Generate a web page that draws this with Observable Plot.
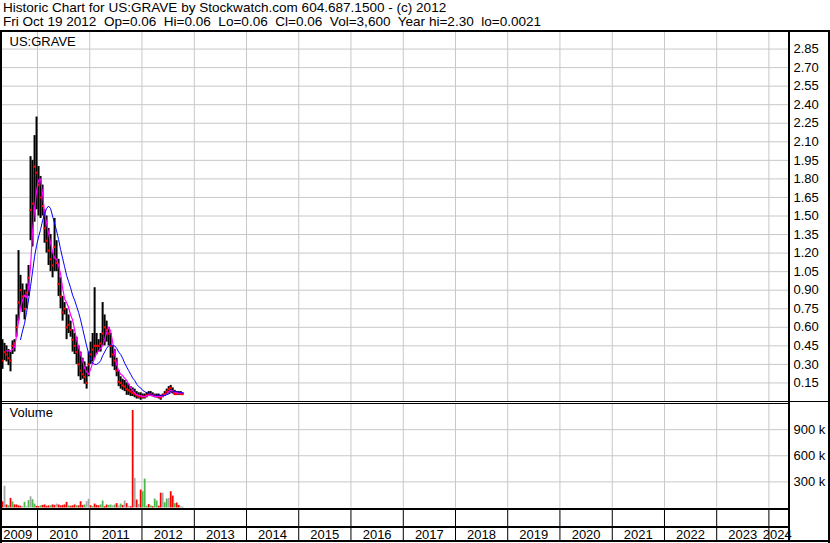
<!DOCTYPE html>
<html><head><meta charset="utf-8">
<script src="https://cdn.jsdelivr.net/npm/d3@7"></script>
<script src="https://cdn.jsdelivr.net/npm/@observablehq/plot@0.6"></script>
<style>
body{margin:0;background:#fff;}
#wrap{position:relative;width:830px;height:543px;overflow:hidden;font-family:"Liberation Sans",Arial,sans-serif;background:#fff;}
#hdr{position:absolute;left:3px;top:1px;font-size:13.55px;line-height:14px;color:#000;white-space:pre;}
.pl{position:absolute;left:0;}
.ln{position:absolute;background:#000;}
</style></head><body>
<div id="wrap">
  <div id="hdr"></div>
  <div id="price" class="pl" style="top:29px"></div>
  <div id="vol" class="pl" style="top:402px"></div>
  <div id="yrs" class="pl" style="top:509px"></div>
  <div class="ln" style="left:0;top:30px;width:830px;height:2px"></div>
  <div class="ln" style="left:0;top:30px;width:2px;height:513px"></div>
  <div class="ln" style="left:828px;top:30px;width:2px;height:513px"></div>
  <div class="ln" style="left:0;top:540px;width:830px;height:2px"></div>
  <div class="ln" style="left:788px;top:30px;width:2px;height:512px"></div>
  <div class="ln" style="left:0;top:401px;width:830px;height:1px"></div>
  <div class="ln" style="left:0;top:403px;width:789px;height:1px"></div>
  <div class="ln" style="left:0;top:508px;width:789px;height:2px"></div>
  <div class="ln" style="left:0;top:526px;width:789px;height:2px"></div>
</div>
<script>
const titleLine1 = "Historic Chart for US:GRAVE by Stockwatch.com 604.687.1500 - (c) 2012";
const titleLine2 = "Fri Oct 19 2012  Op=0.06  Hi=0.06  Lo=0.06  Cl=0.06  Vol=3,600  Year hi=2.30  lo=0.0021";
const symbolLabel = "US:GRAVE";
const volumeLabel = "Volume";

const dates = [
"2009-04-17","2009-05-01","2009-05-15","2009-05-29","2009-06-12","2009-06-26","2009-07-10","2009-07-24","2009-08-07","2009-08-21",
"2009-09-04","2009-09-18","2009-10-02","2009-10-16","2009-10-30","2009-11-13","2009-11-27","2009-12-11","2009-12-25",
"2010-01-08","2010-01-22","2010-02-05","2010-02-19","2010-03-05","2010-03-19","2010-04-02","2010-04-16","2010-04-30","2010-05-14",
"2010-05-28","2010-06-11","2010-06-25","2010-07-09","2010-07-23","2010-08-06","2010-08-20","2010-09-03","2010-09-17","2010-10-01",
"2010-10-15","2010-10-29","2010-11-12","2010-11-26","2010-12-10","2010-12-24",
"2011-01-07","2011-01-21","2011-02-04","2011-02-18","2011-03-04","2011-03-18","2011-04-01","2011-04-15","2011-04-29","2011-05-13",
"2011-05-27","2011-06-10","2011-06-24","2011-07-08","2011-07-22","2011-08-05","2011-08-19","2011-09-02","2011-09-16","2011-09-30",
"2011-10-14","2011-10-28","2011-11-11","2011-11-25","2011-12-09","2011-12-23",
"2012-01-06","2012-01-20","2012-02-03","2012-02-17","2012-03-02","2012-03-16","2012-03-30","2012-04-13","2012-04-27","2012-05-11",
"2012-05-25","2012-06-08","2012-06-22","2012-07-06","2012-07-20","2012-08-03","2012-08-17","2012-08-31","2012-09-14","2012-09-28","2012-10-12"];

const high = [0.50,0.50,0.47,0.45,0.42,0.40,0.49,0.50,0.70,1.22, 1.02,0.95,0.90,0.95,1.10,1.98,1.95,2.15,2.30,1.90,
1.82,1.75,1.55,1.50,1.40,1.35,1.20,1.48,1.30,1.15, 1.00,0.85,0.80,0.75,0.70,0.65,0.58,0.55,0.52,0.45,
0.40,0.35,0.32,0.28,0.40,0.48,0.55,0.92,0.55,0.50, 0.55,0.80,0.70,0.65,0.60,0.55,0.45,0.42,0.35,0.25,
0.20,0.18,0.17,0.15,0.14,0.12,0.11,0.10,0.08,0.07, 0.07,0.06,0.06,0.07,0.08,0.08,0.07,0.06,0.06,0.06,
0.05,0.06,0.08,0.10,0.12,0.13,0.11,0.09,0.08,0.08, 0.08,0.07];
const low = [0.30,0.26,0.33,0.32,0.29,0.24,0.38,0.40,0.52,0.65, 0.75,0.72,0.66,0.75,0.85,1.30,1.25,1.45,1.55,1.50,
1.48,1.50,1.28,1.20,1.10,1.05,1.00,1.05,1.05,0.85, 0.75,0.65,0.70,0.50,0.55,0.52,0.40,0.38,0.30,0.20,
0.17,0.18,0.14,0.10,0.20,0.30,0.32,0.35,0.38,0.40, 0.40,0.45,0.45,0.48,0.45,0.35,0.28,0.25,0.20,0.12,
0.10,0.09,0.08,0.05,0.05,0.04,0.04,0.03,0.02,0.02, 0.01,0.02,0.02,0.03,0.04,0.04,0.04,0.03,0.03,0.02,
0.01,0.03,0.04,0.05,0.06,0.07,0.06,0.05,0.05,0.05, 0.05,0.06];
const close = [0.40,0.33,0.40,0.38,0.35,0.33,0.45,0.47,0.60,0.80, 0.90,0.85,0.75,0.88,1.00,1.55,1.60,1.90,1.85,1.75,
1.65,1.58,1.40,1.30,1.22,1.15,1.10,1.25,1.12,0.95, 0.85,0.72,0.75,0.60,0.62,0.58,0.50,0.45,0.40,0.30,
0.25,0.22,0.20,0.15,0.30,0.38,0.42,0.45,0.45,0.45, 0.47,0.55,0.60,0.58,0.55,0.45,0.38,0.33,0.25,0.16,
0.15,0.13,0.12,0.10,0.09,0.08,0.07,0.06,0.05,0.04, 0.04,0.04,0.04,0.05,0.06,0.06,0.05,0.05,0.04,0.04,
0.03,0.05,0.06,0.08,0.10,0.11,0.08,0.06,0.06,0.07, 0.06,0.06];
const maFast = [null,null,null,0.41,0.41,0.41,0.42,0.44,0.53,0.65, 0.76,0.82,0.86,0.84,0.92,1.09,1.37,1.56,1.70,1.79,
1.80,1.68,1.53,1.44,1.36,1.28,1.21,1.16,1.15,1.10, 1.03,0.92,0.83,0.80,0.76,0.70,0.66,0.58,0.50,0.44,
0.38,0.33,0.27,0.24,0.22,0.26,0.31,0.35,0.39,0.41, 0.43,0.45,0.50,0.56,0.60,0.57,0.48,0.39,0.30,0.25,
0.22,0.21,0.19,0.17,0.14,0.11,0.09,0.07,0.055,0.05, 0.045,0.04,0.04,0.045,0.05,0.05,0.045,0.04,0.04,0.04,
0.04,0.045,0.05,0.06,0.08,0.09,0.085,0.075,0.07,0.07, 0.07,0.07];
const maSlow = [null,null,null,null,null,null,null,null,null,null, 0.50,0.57,0.63,0.72,0.82,0.93,1.05,1.17,1.26,1.33,
1.39,1.46,1.52,1.56,1.58,1.56,1.50,1.44,1.38,1.31, 1.23,1.16,1.09,1.02,0.97,0.92,0.86,0.82,0.77,0.72,
0.66,0.59,0.52,0.45,0.39,0.34,0.31,0.30,0.30,0.31, 0.33,0.37,0.40,0.43,0.45,0.46,0.45,0.45,0.43,0.40,
0.38,0.35,0.31,0.28,0.25,0.22,0.19,0.17,0.14,0.12, 0.11,0.09,0.08,0.07,0.065,0.06,0.055,0.05,0.05,0.05,
0.05,0.05,0.05,0.055,0.06,0.07,0.08,0.08,0.08,0.075, 0.07,0.07];
// volume in thousands of shares
const volumeK = [35,72,250,35,25,110,70,35,35,25, 20,15,65,15,85,130,95,45,20,15,
25,30,35,20,25,25,35,30,45,35, 25,30,35,65,25,20,25,35,25,25,
72,30,35,72,100,25,15,45,30,25, 35,80,15,34,30,34,25,34,50,25,
45,30,80,50,20,15,1120,340,92,40, 206,187,332,20,40,25,15,103,80,20,
170,170,60,103,110,187,137,50,57,30, 15,10];
const volDir = ["d","d","f","d","u","d","u","d","d","d", "d","f","u","f","u","f","u","u","d","d",
"u","d","d","d","d","u","d","d","f","d", "d","d","d","d","u","d","d","d","u","d",
"d","d","u","f","f","d","u","d","d","d", "u","u","d","d","u","u","f","u","d","f",
"u","d","f","d","f","d","d","f","d","f", "d","u","u","u","d","u","d","u","u","d",
"d","f","u","u","f","d","d","u","d","d", "f","f"];

const priceTicks = [0.15,0.30,0.45,0.60,0.75,0.90,1.05,1.20,1.35,1.50,1.65,1.80,1.95,2.10,2.25,2.40,2.55,2.70,2.85];
const volTicks = [300000,600000,900000];
const yearLines = ["2010-01-01","2011-01-01","2012-01-01","2013-01-01","2014-01-01","2015-01-01","2016-01-01","2017-01-01",
"2018-01-01","2019-01-01","2020-01-01","2021-01-01","2022-01-01","2023-01-01","2024-01-01"];
const yearLabels = ["2009","2010","2011","2012","2013","2014","2015","2016","2017","2018","2019","2020","2021","2022","2023","2024"];
const yearLabelAt = ["2009-08-16","2010-07-02","2011-07-02","2012-07-02","2013-07-02","2014-07-02","2015-07-02","2016-07-02",
"2017-07-02","2018-07-02","2019-07-02","2020-07-02","2021-07-02","2022-07-02","2023-07-02","2024-02-28"];
const xDomain = ["2009-04-24","2024-05-24"];

const parse = d3.utcParse("%Y-%m-%d");
const dirColor = {u:"#4cb84c", d:"#ff0000", f:"#a8a8a8"};
const rows = dates.map((d,i)=>({date:parse(d), high:high[i], low:low[i], close:close[i],
  fast:maFast[i], slow:maSlow[i], vol:volumeK[i]*1000, col:dirColor[volDir[i]]}));
const yl = yearLines.map(parse);
const xd = xDomain.map(parse);
const font = '"Liberation Sans", Arial, sans-serif';
const style = {fontFamily:font, fontSize:"13px", color:"#000", background:"transparent", overflow:"visible"};

document.getElementById("hdr").textContent = titleLine1 + "\n" + titleLine2;

const price = Plot.plot({
  width:830, height:373, marginLeft:1, marginRight:41, marginTop:1, marginBottom:1,
  style,
  x:{type:"utc", domain:xd, axis:null},
  y:{domain:[0,3.0], axis:null, label:null},
  marks:[
    Plot.ruleX(yl, {stroke:"#c8c8c8", strokeWidth:1}),
    Plot.ruleY(priceTicks, {stroke:"#c8c8c8", strokeWidth:1}),
    Plot.ruleX(rows, {x:"date", y1:"low", y2:"high", stroke:"#000", strokeWidth:2}),
    Plot.dot(rows, {x:"date", y:"close", symbol:"square", r:1.2, fill:"#ff0000", stroke:null}),
    Plot.line(rows, {x:"date", y:"fast", stroke:"#ff00ff", strokeWidth:1.2}),
    Plot.line(rows, {x:"date", y:"slow", stroke:"#0000ff", strokeWidth:1}),
    Plot.axisY(priceTicks, {anchor:"right", tickSize:0, tickPadding:4, tickFormat:d=>d.toFixed(2), fill:"#000", label:null}),
    Plot.text([symbolLabel], {frameAnchor:"top-left", dx:8, dy:6, textAnchor:"start", lineAnchor:"top", fill:"#000"})
  ]
});
document.getElementById("price").appendChild(price);

const vol = Plot.plot({
  width:830, height:108, marginLeft:1, marginRight:41, marginTop:1, marginBottom:2.5,
  style,
  x:{type:"utc", domain:xd, axis:null},
  y:{domain:[0,1200000], axis:null, label:null},
  color:{type:"identity"},
  marks:[
    Plot.ruleX(yl, {stroke:"#c8c8c8", strokeWidth:1}),
    Plot.ruleY(volTicks, {stroke:"#c8c8c8", strokeWidth:1}),
    Plot.ruleX(rows, {x:"date", y1:0, y2:"vol", stroke:"col", strokeWidth:1.8}),
    Plot.axisY(volTicks, {anchor:"right", tickSize:0, tickPadding:4, tickFormat:d=>(d/1000)+" k", fill:"#000", label:null}),
    Plot.text([volumeLabel], {frameAnchor:"top-left", dx:8, dy:4, textAnchor:"start", lineAnchor:"top", fill:"#000"})
  ]
});
document.getElementById("vol").appendChild(vol);

const yrs = Plot.plot({
  width:830, height:34, marginLeft:1, marginRight:41, marginTop:0, marginBottom:2,
  style,
  x:{type:"utc", domain:xd, axis:null},
  marks:[
    Plot.ruleX(yl, {stroke:"#000", strokeWidth:1}),
    Plot.text(yearLabels, {x:(d,i)=>parse(yearLabelAt[i]), frameAnchor:"bottom", lineAnchor:"bottom", dy:-3, fill:"#000"})
  ]
});
document.getElementById("yrs").appendChild(yrs);
</script>
</body></html>
